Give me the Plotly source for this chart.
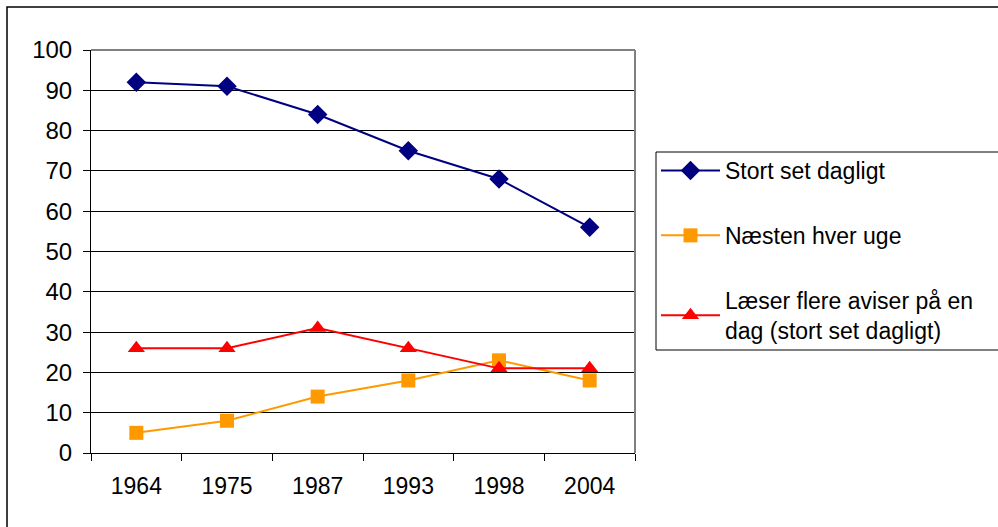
import plotly.graph_objects as go

years = ["1964", "1975", "1987", "1993", "1998", "2004"]
daily = [92, 91, 84, 75, 68, 56]
weekly = [5, 8, 14, 18, 23, 18]
multi = [26, 26, 31, 26, 21, 21]
names = ["Stort set dagligt", "Næsten hver uge",
         "Læser flere aviser på en<br>dag (stort set dagligt)"]
y_ticks = list(range(0, 101, 10))

W, H = 998, 527
L, R, T, B = 91, 635, 50, 453

fig = go.Figure()
fig.add_trace(go.Scatter(x=years, y=daily, name=names[0], mode="lines+markers",
                         line=dict(color="#000080", width=2),
                         marker=dict(symbol="diamond", size=15, color="#000080"),
                         legendgroup="a"))
fig.add_trace(go.Scatter(x=years, y=weekly, name=names[1], mode="lines+markers",
                         line=dict(color="#FF9900", width=2),
                         marker=dict(symbol="square", size=14, color="#FF9900"),
                         legendgroup="b"))
fig.add_trace(go.Scatter(x=years, y=multi, name=names[2], mode="lines+markers",
                         line=dict(color="#FF0000", width=2),
                         marker=dict(symbol="triangle-up", size=15, color="#FF0000"),
                         legendgroup="c"))

pw, ph = R - L, B - T
def px(x):
    return (x - L) / pw
def py(y):
    return (B - y) / ph

fig.update_layout(
    width=W, height=H,
    margin=dict(l=L, r=W - R, t=T, b=H - B, pad=0, autoexpand=False),
    paper_bgcolor="white", plot_bgcolor="white",
    font=dict(family="Liberation Sans, Arial, sans-serif", size=22, color="black"),
    showlegend=True,
    legend=dict(x=px(656), y=py(149), xanchor="left", yanchor="top",
                borderwidth=0, bgcolor="rgba(0,0,0,0)",
                font=dict(size=23), tracegroupgap=32, itemwidth=59,
                traceorder="grouped"),
    xaxis=dict(type="category", range=[-0.5, 5.5], showgrid=False,
               showline=True, linecolor="black", linewidth=1,
               ticks="outside", tickson="boundaries", ticklen=7, tickcolor="black",
               tickfont=dict(size=23), ticklabelstandoff=12, fixedrange=True),
    yaxis=dict(range=[0, 100], tickvals=y_ticks, showgrid=True, gridcolor="black",
               gridwidth=1, showline=True, linecolor="black", linewidth=1,
               ticks="outside", ticklen=7, tickcolor="black", zeroline=False,
               tickfont=dict(size=24), ticklabelstandoff=6, fixedrange=True),
    shapes=[
        dict(type="line", xref="paper", yref="paper", x0=0, x1=1, y0=1, y1=1,
             line=dict(color="#808080", width=2), layer="above"),
        dict(type="line", xref="paper", yref="paper", x0=1, x1=1, y0=0, y1=1,
             line=dict(color="#808080", width=2), layer="above"),
        dict(type="rect", xref="paper", yref="paper", x0=px(7), x1=px(1005),
             y0=py(535), y1=py(7), line=dict(color="black", width=1.5)),
        dict(type="rect", xref="paper", yref="paper", x0=px(656), x1=px(1005),
             y0=py(350), y1=py(152), line=dict(color="black", width=1)),
    ],
)

fig.write_html("out.html", config={"displayModeBar": False},
               post_script="document.body.style.margin='0';document.body.style.overflow='hidden';")
